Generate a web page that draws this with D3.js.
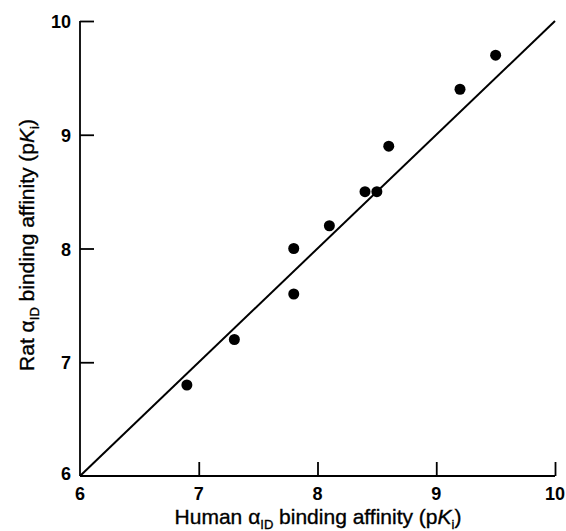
<!DOCTYPE html>
<html>
<head>
<meta charset="utf-8">
<script src="https://cdn.jsdelivr.net/npm/d3@7"></script>
<style>
  body { margin: 0; background: #fff; }
  text { font-family: "Liberation Sans", Arial, sans-serif; fill: #000; }
</style>
</head>
<body>
<svg id="chart"></svg>
<script>
let humanPKi = [6.9, 7.3, 7.8, 7.8, 8.1, 8.4, 8.5, 8.6, 9.2, 9.5];
let ratPKi   = [6.8, 7.2, 7.6, 8.0, 8.2, 8.5, 8.5, 8.9, 9.4, 9.7];
let tickValues = [6, 7, 8, 9, 10];
let identityLine = [6, 10];

let width = 566,
    height = 531;

let x = d3.scaleLinear().domain([6, 10]).range([80, 555]);
let y = d3.scaleLinear().domain([6, 10]).range([476, 21]);

let svg = d3.select("#chart")
    .attr("width", width)
    .attr("height", height);

// axes, ticks point inward
let xAxis = svg.append("g")
    .attr("transform", "translate(0," + y(6) + ")")
    .call(d3.axisTop(x).tickValues(tickValues).tickSize(14).tickFormat(""));
xAxis.select(".domain").attr("d", "M" + x(6) + ",0H" + x(10));

let yAxis = svg.append("g")
    .attr("transform", "translate(" + x(6) + ",0)")
    .call(d3.axisRight(y).tickValues(tickValues).tickSize(14).tickFormat(""));
yAxis.select(".domain").attr("d", "M0," + y(10) + "V" + y(6));

svg.selectAll(".domain, .tick line")
    .attr("stroke", "#000")
    .attr("stroke-width", 1.8);
yAxis.selectAll(".tick").filter(d => d === 6).remove();
xAxis.selectAll(".tick").filter(d => d === 6).remove();

// tick labels
svg.selectAll(".xlab")
    .data(tickValues)
    .enter().append("text")
    .attr("x", d => x(d))
    .attr("y", y(6) + 24)
    .attr("text-anchor", "middle")
    .attr("font-size", 18)
    .attr("font-weight", "bold")
    .text(d => d);

svg.selectAll(".ylab")
    .data(tickValues)
    .enter().append("text")
    .attr("x", x(6) - 9)
    .attr("y", d => y(d) + 7 - (d === 6 ? 3 : 0))
    .attr("text-anchor", "end")
    .attr("font-size", 18)
    .attr("font-weight", "bold")
    .text(d => d);

// identity line
svg.append("line")
    .attr("x1", x(identityLine[0])).attr("y1", y(identityLine[0]))
    .attr("x2", x(identityLine[1])).attr("y2", y(identityLine[1]))
    .attr("stroke", "#000")
    .attr("stroke-width", 2);

// points
svg.selectAll(".pt")
    .data(humanPKi)
    .enter().append("circle")
    .attr("cx", d => x(d))
    .attr("cy", (d, i) => y(ratPKi[i]))
    .attr("r", 5.5)
    .attr("fill", "#000");

// axis titles
function titleText(sel, name) {
    sel.attr("font-size", 21)
        .attr("stroke", "#000")
        .attr("stroke-width", 0.35);
    sel.append("tspan").text(name + " ");
    sel.append("tspan").text("α");
    sel.append("tspan").attr("font-size", 13).attr("dy", 5).text("ID");
    sel.append("tspan").attr("dy", -5).text(" binding affinity (p");
    sel.append("tspan").attr("font-style", "italic").text("K");
    sel.append("tspan").attr("font-size", 13).attr("dy", 5).text("i");
    sel.append("tspan").attr("dy", -5).text(")");
}

svg.append("text")
    .attr("x", 318)
    .attr("y", 524)
    .attr("text-anchor", "middle")
    .call(titleText, "Human");

svg.append("text")
    .attr("transform", "translate(34,245) rotate(-90)")
    .attr("text-anchor", "middle")
    .call(titleText, "Rat");
</script>
</body>
</html>
